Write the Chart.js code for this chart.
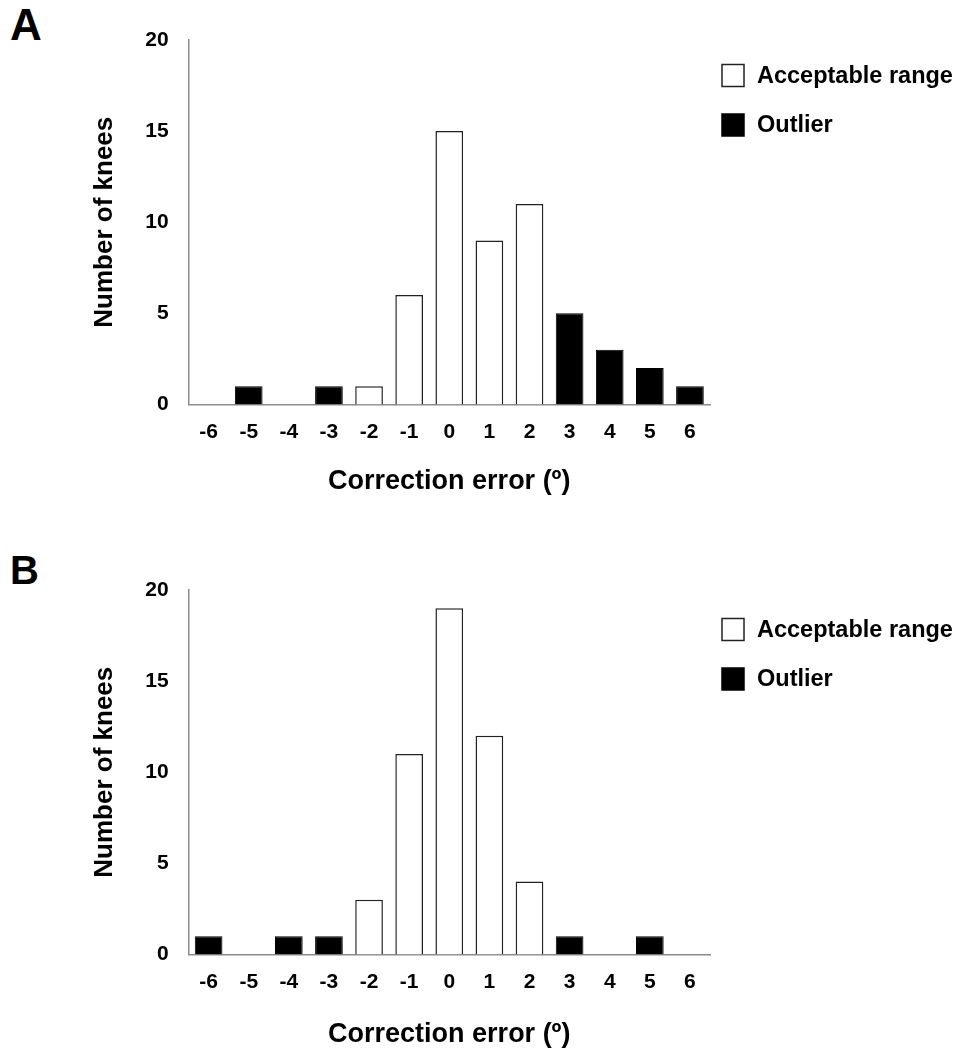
<!DOCTYPE html>
<html>
<head>
<meta charset="utf-8">
<title>Correction error</title>
<script src="https://cdn.jsdelivr.net/npm/chart.js@4.4.1/dist/chart.umd.min.js"></script>
<style>
  html, body { margin: 0; padding: 0; background: #fff; overflow: hidden; }
  body { position: relative; width: 956px; height: 1051px; font-family: "Liberation Sans", Arial, sans-serif; }
  canvas { position: absolute; left: 0; }
  .tag { position: absolute; left: 10px; font-weight: bold; line-height: 1; color: #000; }
</style>
</head>
<body>
<div class="tag" style="top:3px;font-size:44px">A</div>
<canvas id="chartA" width="956" height="520" style="top:0"></canvas>
<div class="tag" style="top:550px;font-size:40px">B</div>
<canvas id="chartB" width="956" height="501" style="top:550px"></canvas>
<script>
// correction error categories (degrees)
const errors = ['-6', '-5', '-4', '-3', '-2', '-1', '0', '1', '2', '3', '4', '5', '6'];
const yTicks = [0, 5, 10, 15, 20];

// panel A
const acceptableA = [null, null, null, null, 1, 6, 15, 9, 11, null, null, null, null];
const outlierA = [null, 1, null, 1, null, null, null, null, null, 5, 3, 2, 1];

// panel B
const acceptableB = [null, null, null, null, 3, 11, 19, 12, 4, null, null, null, null];
const outlierB = [1, null, 1, 1, null, null, null, null, null, 1, null, 1, null];

Chart.defaults.font.family = '"Liberation Sans", Arial, sans-serif';
Chart.defaults.color = '#000';

// legend drawn to the right of the plot, boxes + labels from the datasets
const sideLegend = {
    id: 'sideLegend',
    afterDraw(chart, args, opts) {
        var ctx = chart.ctx;
        var area = chart.chartArea;
        ctx.save();
        ctx.font = 'bold 23.5px "Liberation Sans", Arial, sans-serif';
        ctx.textBaseline = 'middle';
        chart.data.datasets.forEach(function (ds, i) {
            var x = area.right + 12;
            var y = area.top + opts.top + i * 49.5;
            ctx.fillStyle = ds.backgroundColor;
            ctx.fillRect(x, y, 22, 22);
            ctx.lineWidth = 1.5;
            ctx.strokeStyle = ds.borderColor;
            ctx.strokeRect(x, y, 22, 22);
            ctx.fillStyle = '#000';
            ctx.fillText(ds.label, x + 35, y + 12);
        });
        ctx.restore();
    }
};

function makeChart(id, acceptable, outlier, legendTop, titlePad) {
    var ctx = document.getElementById(id);
    return new Chart(ctx, {
        type: 'bar',
        data: {
            labels: errors,
            datasets: [{
                    label: 'Acceptable range',
                    data: acceptable,
                    backgroundColor: '#ffffff',
                    borderColor: '#222222',
                    borderWidth: 1.5,
                    barPercentage: 0.69,
                    categoryPercentage: 1.0
                }, {
                    label: 'Outlier',
                    data: outlier,
                    backgroundColor: '#000000',
                    borderColor: '#000000',
                    borderWidth: 1,
                    barPercentage: 0.69,
                    categoryPercentage: 1.0
                }]
        },
        options: {
            responsive: false,
            animation: false,
            layout: {
                padding: {top: 40, right: 246, bottom: 0, left: 0}
            },
            plugins: {
                legend: {display: false},
                tooltip: {enabled: false},
                sideLegend: {top: legendTop}
            },
            scales: {
                x: {
                    stacked: true,
                    grid: {display: false, drawTicks: false},
                    border: {display: true, color: '#8c8c8c', width: 1.5},
                    ticks: {
                        font: {size: 21, weight: 'bold'},
                        padding: 15,
                        maxRotation: 0,
                        autoSkip: false
                    },
                    title: {
                        display: true,
                        text: 'Correction error (º)',
                        font: {size: 27, weight: 'bold'},
                        padding: titlePad
                    }
                },
                y: {
                    stacked: true,
                    min: yTicks[0],
                    max: yTicks[yTicks.length - 1],
                    grid: {display: false, drawTicks: false},
                    border: {display: true, color: '#8c8c8c', width: 1.5},
                    ticks: {
                        stepSize: yTicks[1] - yTicks[0],
                        font: {size: 21, weight: 'bold'},
                        padding: 20
                    },
                    title: {
                        display: true,
                        text: 'Number of knees',
                        font: {size: 26, weight: 'bold'},
                        padding: {top: 89, bottom: 5}
                    }
                }
            }
        },
        plugins: [sideLegend]
    });
}

makeChart('chartA', acceptableA, outlierA, 24.5, {top: 6, bottom: 22});
makeChart('chartB', acceptableB, outlierB, 28.5, {top: 9, bottom: 0});
</script>
</body>
</html>
